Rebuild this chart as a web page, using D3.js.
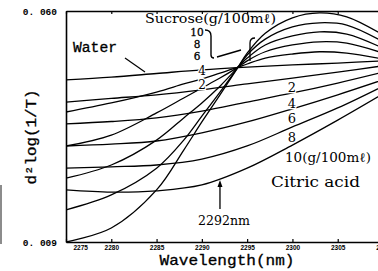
<!DOCTYPE html>
<html>
<head>
<meta charset="utf-8">
<script src="https://cdn.jsdelivr.net/npm/d3@7"></script>
<style>
  body { margin: 0; background: #fff; }
  svg { display: block; }
  .mono { font-family: "Liberation Mono", "DejaVu Sans Mono", monospace; }
  .serif { font-family: "DejaVu Serif", "Liberation Serif", serif; }
</style>
</head>
<body>
<div id="chart"></div>
<script>
// wavelengths (nm) where the curves were read
var wlSucrose = [2275, 2280, 2285, 2288, 2290, 2292, 2294, 2295, 2297, 2300, 2303, 2306, 2310];
var wlOther   = [2275, 2280, 2285, 2290, 2295, 2300, 2305, 2310];

// sucrose solutions (g/100ml)
var sucrose2  = [0.0377, 0.0397, 0.0421, 0.0439, 0.0450, 0.0463, 0.0476, 0.0483, 0.0496, 0.0505, 0.0510, 0.0507, 0.0494];
var sucrose4  = [0.0302, 0.0326, 0.0375, 0.0408, 0.0430, 0.0452, 0.0476, 0.0490, 0.0510, 0.0525, 0.0532, 0.0529, 0.0507];
var sucrose6  = [0.0231, 0.0260, 0.0315, 0.0364, 0.0397, 0.0434, 0.0476, 0.0496, 0.0525, 0.0545, 0.0554, 0.0549, 0.0518];
var sucrose8  = [0.0161, 0.0194, 0.0253, 0.0315, 0.0368, 0.0421, 0.0476, 0.0503, 0.0538, 0.0565, 0.0574, 0.0569, 0.0532];
var sucrose10 = [0.0090, 0.0121, 0.0205, 0.0293, 0.0355, 0.0415, 0.0476, 0.0507, 0.0551, 0.0585, 0.0596, 0.0587, 0.0547];

// water and citric acid solutions (g/100ml)
var water    = [0.0448, 0.0454, 0.0462, 0.0470, 0.0476, 0.0481, 0.0485, 0.0490];
var citric2  = [0.0399, 0.0407, 0.0415, 0.0426, 0.0439, 0.0452, 0.0465, 0.0479];
var citric4  = [0.0351, 0.0356, 0.0364, 0.0379, 0.0399, 0.0419, 0.0441, 0.0465];
var citric6  = [0.0302, 0.0306, 0.0313, 0.0331, 0.0355, 0.0384, 0.0415, 0.0448];
var citric8  = [0.0253, 0.0256, 0.0260, 0.0273, 0.0302, 0.0344, 0.0386, 0.0434];
var citric10 = [0.0205, 0.0200, 0.0203, 0.0216, 0.0253, 0.0304, 0.0359, 0.0417];

var xTicks = [2275, 2280, 2285, 2290, 2295, 2300, 2305, 2310];
var yTicks = [0.009, 0.060];
var concCitric = ["2", "4", "6", "8"];
var concSucroseTop = ["10", "8", "6"];

var width = 378, height = 271;

var svg = d3.select("#chart")
  .append("svg")
    .attr("width", width)
    .attr("height", height);

var x = d3.scaleLinear()
  .domain([2275, 2310])
  .range([66, 383]);

var y = d3.scaleLinear()
  .domain([0.009, 0.060])
  .range([242, 11]);

svg.append("clipPath")
    .attr("id", "plot")
  .append("rect")
    .attr("x", 66).attr("y", 10)
    .attr("width", 330).attr("height", 233);

// curves
var line = d3.line()
  .x(function(d) { return x(d[0]); })
  .y(function(d) { return y(d[1]); })
  .curve(d3.curveCatmullRom);

var series = [
  [wlOther, water],
  [wlOther, citric2], [wlOther, citric4], [wlOther, citric6], [wlOther, citric8], [wlOther, citric10],
  [wlSucrose, sucrose2], [wlSucrose, sucrose4], [wlSucrose, sucrose6], [wlSucrose, sucrose8], [wlSucrose, sucrose10]
];

svg.append("g")
    .attr("clip-path", "url(#plot)")
  .selectAll("path")
  .data(series)
  .enter()
  .append("path")
    .attr("d", function(s) { return line(s[0].map(function(w, i) { return [w, s[1][i]]; })); })
    .attr("fill", "none")
    .attr("stroke", "#000")
    .attr("stroke-width", 1.3);

// axes
var gLeft = svg.append("g")
  .attr("transform", "translate(66,0)")
  .call(d3.axisLeft(y).tickValues(yTicks).tickSize(0).tickPadding(9)
    .tickFormat(function(d) { return d3.format(".3f")(d).replace(".", ". "); }));

var gBottom = svg.append("g")
  .attr("transform", "translate(0,242)")
  .call(d3.axisBottom(x).tickValues(xTicks).tickSizeInner(-3).tickSizeOuter(0).tickPadding(3)
    .tickFormat(d3.format("d")));

var gTop = svg.append("g")
  .attr("transform", "translate(0,11)")
  .call(d3.axisTop(x).tickValues(xTicks).tickSizeInner(-3).tickSizeOuter(0).tickFormat(""));

svg.selectAll(".domain").attr("stroke", "#000").attr("stroke-width", 1.6);
svg.selectAll(".tick line").attr("stroke", "#000").attr("stroke-width", 1.2);

gLeft.selectAll("text")
  .attr("class", "mono")
  .style("font-size", "9.5px")
  .style("font-weight", "bold")
  .attr("fill", "#000");

gBottom.selectAll("text")
  .style("font-family", "Liberation Sans, Arial, sans-serif")
  .style("font-size", "6.5px")
  .style("font-weight", "bold")
  .attr("fill", "#000");
gBottom.select(".tick text")
  .attr("text-anchor", "start")
  .attr("dx", 7);

// axis titles
svg.append("text")
    .attr("class", "mono")
    .attr("x", 227)
    .attr("y", 265)
    .attr("text-anchor", "middle")
    .attr("textLength", 135)
    .attr("lengthAdjust", "spacingAndGlyphs")
    .style("font-size", "15px")
    .attr("stroke", "#000").attr("stroke-width", 0.3)
    .text("Wavelength(nm)");

svg.append("text")
    .attr("class", "mono")
    .attr("transform", "translate(36,137) rotate(-90)")
    .attr("text-anchor", "middle")
    .attr("textLength", 95)
    .attr("lengthAdjust", "spacingAndGlyphs")
    .style("font-size", "15px")
    .attr("stroke", "#000").attr("stroke-width", 0.3)
    .text("d\u00b2log(1/T)");

// annotations
function label(txt, px, py, cls, size, len, anchor) {
  var t = svg.append("text")
    .attr("class", cls)
    .attr("x", px)
    .attr("y", py)
    .attr("text-anchor", anchor || "start")
    .style("font-size", size + "px")
    .attr("fill", "#000")
    .text(txt);
  if (len) t.attr("textLength", len).attr("lengthAdjust", "spacingAndGlyphs");
  return t;
}

label("Water", 73, 52, "mono", 14.5, 44).attr("stroke", "#000").attr("stroke-width", 0.3);
label("Sucrose(g/100m\u2113)", 145, 23, "serif", 13.5, 131);

// stacked 10 / 8 / 6 next to the brace
concSucroseTop.forEach(function(c, i) {
  label(c, 197, 36 + i * 12, "serif", 10.5, null, "middle")
    .attr("stroke", "#000").attr("stroke-width", 0.3);
});

label("4", 202, 75, "serif", 12, null, "middle")
  .attr("stroke", "#fff").attr("stroke-width", 2.5).style("paint-order", "stroke");
label("2", 202, 89, "serif", 12, null, "middle")
  .attr("stroke", "#fff").attr("stroke-width", 2.5).style("paint-order", "stroke");

var citricLabelY = [92, 108, 123, 142];
concCitric.forEach(function(c, i) {
  label(c, 292, citricLabelY[i], "serif", 13, null, "middle")
    .attr("stroke", "#fff").attr("stroke-width", 2.5).style("paint-order", "stroke");
});
label("10(g/100m\u2113)", 285, 162, "serif", 13, 86)
  .attr("stroke", "#fff").attr("stroke-width", 2.5).style("paint-order", "stroke");
label("Citric acid", 271, 187, "serif", 14, 89);
label("2292nm", 198, 225, "serif", 13, 52);

// arrow to 2292 nm
svg.append("path")
  .attr("d", "M" + x(2292) + "," + 209 + "L" + x(2292) + "," + 184)
  .attr("stroke", "#000").attr("stroke-width", 1.3);
svg.append("path")
  .attr("d", "M" + x(2292) + "," + 180 + "l-2.5,7 l5,0 z")
  .attr("fill", "#000");

// leader lines, brace and bracket
svg.append("path")
  .attr("d", "M125,58 L145,72")
  .attr("stroke", "#000").attr("stroke-width", 1.2);
svg.append("path")
  .attr("d", "M205,30 Q211,30 211,36 L211,55 Q211,58 214,58 M217,57 L241,50")
  .attr("fill", "none").attr("stroke", "#000").attr("stroke-width", 1.4);
svg.append("path")
  .attr("d", "M255,38 Q250,38 250,43 L250,61")
  .attr("fill", "none").attr("stroke", "#000").attr("stroke-width", 1.3);

// scan edge mark on the far left
svg.append("path")
  .attr("d", "M1,185 L1,244")
  .attr("stroke", "#666").attr("stroke-width", 1.5);
</script>
</body>
</html>
